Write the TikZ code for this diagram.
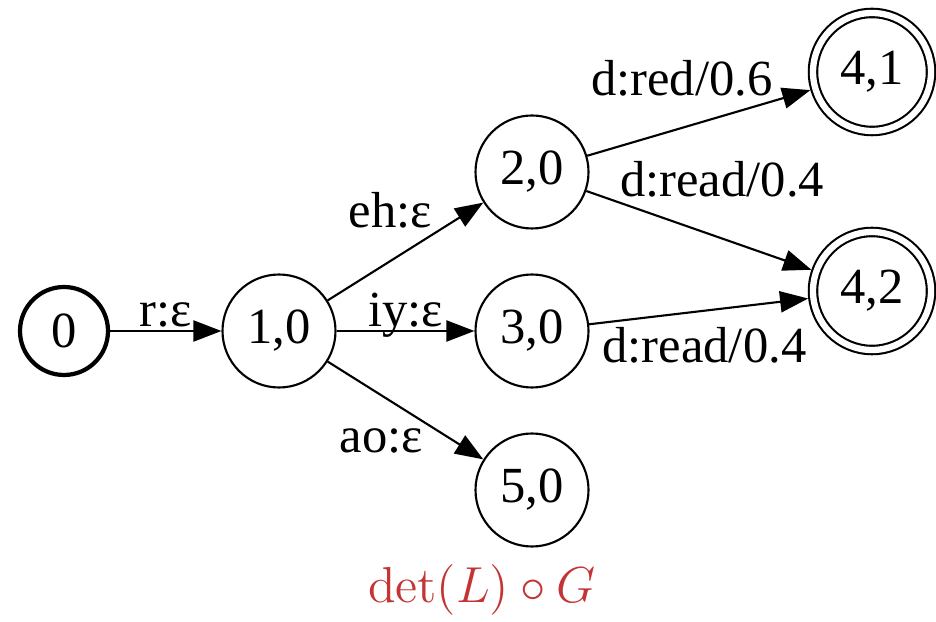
\documentclass[tikz,border=0pt]{standalone}
\usepackage[no-math]{fontspec}
\setmainfont{Liberation Serif}
\usepackage{xcolor}
\usetikzlibrary{positioning,arrows.meta}

\definecolor{captred}{RGB}{196,52,52}

\begin{document}
\begin{tikzpicture}[
    node distance=1cm and 1cm,
    on grid,
    font=\fontsize{14.4}{17}\selectfont,
    st/.style={
        circle,
        draw,
        line width=0.6pt,
        minimum size=1.13cm,
        inner sep=0pt
    },
    startst/.style={
        st,
        line width=1.2pt,
        minimum size=0.88cm
    },
    finalst/.style={
        st,
        double,
        double distance=1.8pt,
        minimum size=1.18cm,
        outer sep=1.5pt
    },
    trans/.style={
        draw,
        -{Triangle[length=8pt,width=6pt]},
        line width=0.6pt
    },
    lbl/.style={
        inner sep=1pt,
        text depth=0pt
    }
]
    \useasboundingbox (0,0) rectangle (9.36,6.21);

    % --- Nodes ---

    % Start and first split
    \node [startst] (s0) at (0.64,2.90) {0};
    \node [st, right=2.15cm of s0] (s10) {1,0};

    % Middle column
    \node [st, right=2.53cm of s10] (s30) {3,0};
    \node [st, above=1.59cm of s30] (s20) {2,0};
    \node [st, below=1.59cm of s30] (s50) {5,0};

    % Final states on the right
    \node [finalst, above right=1.00cm and 3.40cm of s20] (s41) {4,1};
    \node [finalst, above right=0.40cm and 3.40cm of s30] (s42) {4,2};

    % Caption
    \node [text=captred] (capt) at (4.82,0.31) {$\det(L)\circ G$};

    % --- Connections ---
    \path [trans] (s0) -- node[lbl, midway, above] {r:ε} (s10);
    \path [trans] (s10) -- node[lbl, pos=0.70, anchor=south east] {eh:ε} (s20);
    \path [trans] (s10) -- node[lbl, midway, above] {iy:ε} (s30);
    \path [trans] (s10) -- node[lbl, pos=0.64, anchor=north east] {ao:ε} (s50);

    \path [trans] (s20) -- node[lbl, pos=0.85, anchor=south east] {d:red/0.6} (s41);
    \path [trans] (s20) -- node[lbl, pos=0.13, anchor=south west] {d:read/0.4} (s42);
    \path [trans] (s30) -- node[lbl, pos=0.04, anchor=north west] {d:read/0.4} (s42);

\end{tikzpicture}
\end{document}
